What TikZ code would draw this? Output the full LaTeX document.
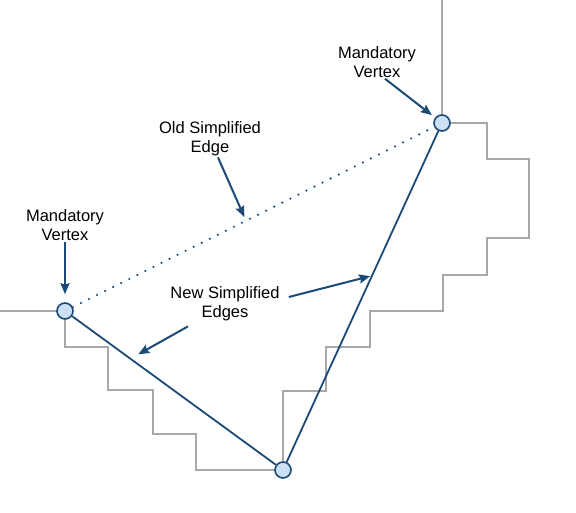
\documentclass[tikz,border=0pt]{standalone}
\usepackage{fontspec}
\setmainfont{Liberation Sans}
\usetikzlibrary{arrows.meta,calc}

\definecolor{edgeblue}{HTML}{1B4A76}
\definecolor{vertexfill}{HTML}{CCE0F4}
\definecolor{outlinegray}{HTML}{A8A8A8}

\tikzset{
  vertex/.style={circle, draw=edgeblue, fill=vertexfill, line width=1.6pt, minimum size=16pt, inner sep=0pt},
  callout/.style={align=center, inner sep=1pt, font=\fontsize{16.5}{19}\selectfont},
  pointer/.style={edgeblue, line width=2pt, -{Stealth[length=11pt,width=9pt,inset=1.5pt]}},
  simplified/.style={edgeblue, line width=1.8pt},
  original/.style={outlinegray, line width=2.2pt},
}

\begin{document}
\begin{tikzpicture}[x=1pt, y=-1pt]
    \useasboundingbox (0,0) rectangle (576,512);

    % original polyline
    \draw[original] (442,0) -- (442,123) -- (487,123) -- (487,159) -- (529,159) -- (529,238)
        -- (487,238) -- (487,275) -- (443,275) -- (443,311) -- (370,311) -- (370,347)
        -- (326,347) -- (326,391) -- (283,391) -- (283,470) -- (196,470) -- (196,434)
        -- (153,434) -- (153,390) -- (108,390) -- (108,347) -- (65,347) -- (65,311) -- (0,311);

    \node[vertex] (lv) at (65,311) {};
    \node[vertex] (bv) at (283,470) {};
    \node[vertex] (rv) at (442,123) {};

    \draw[simplified, dash pattern=on 0pt off 9pt, line cap=round, line width=2.4pt] (lv) -- (rv);
    \draw[simplified] (lv) -- (bv);
    \draw[simplified] (bv) -- (rv);

    \coordinate (oldpt) at ($(lv)!0.48!(rv)$);
    \coordinate (newl) at ($(lv)!0.3!(bv)$);
    \coordinate (newr) at ($(bv)!0.56!(rv)$);

    \node[callout] (mvl) at (65,225) {Mandatory\\Vertex};
    \node[callout] (mvr) at (377,62) {Mandatory\\Vertex};
    \node[callout] (old) at (210,139) {Old Simplified\\Edge};
    \node[callout] (new) at (225,304) {New Simplified\\Edges};

    \draw[pointer, shorten >=8pt] (mvl.south) -- (lv.north);
    \draw[pointer, shorten >=4pt] ([xshift=8pt]mvr.south) -- (rv);
    \draw[pointer, shorten >=4pt] ([xshift=8pt]old.south) -- (oldpt);
    \draw[pointer, shorten >=9pt] ([xshift=-37pt,yshift=-4pt]new.south) -- (newl);
    \draw[pointer, shorten >=2pt] ([xshift=8pt,yshift=7pt]new.east) -- (newr);
\end{tikzpicture}
\end{document}
